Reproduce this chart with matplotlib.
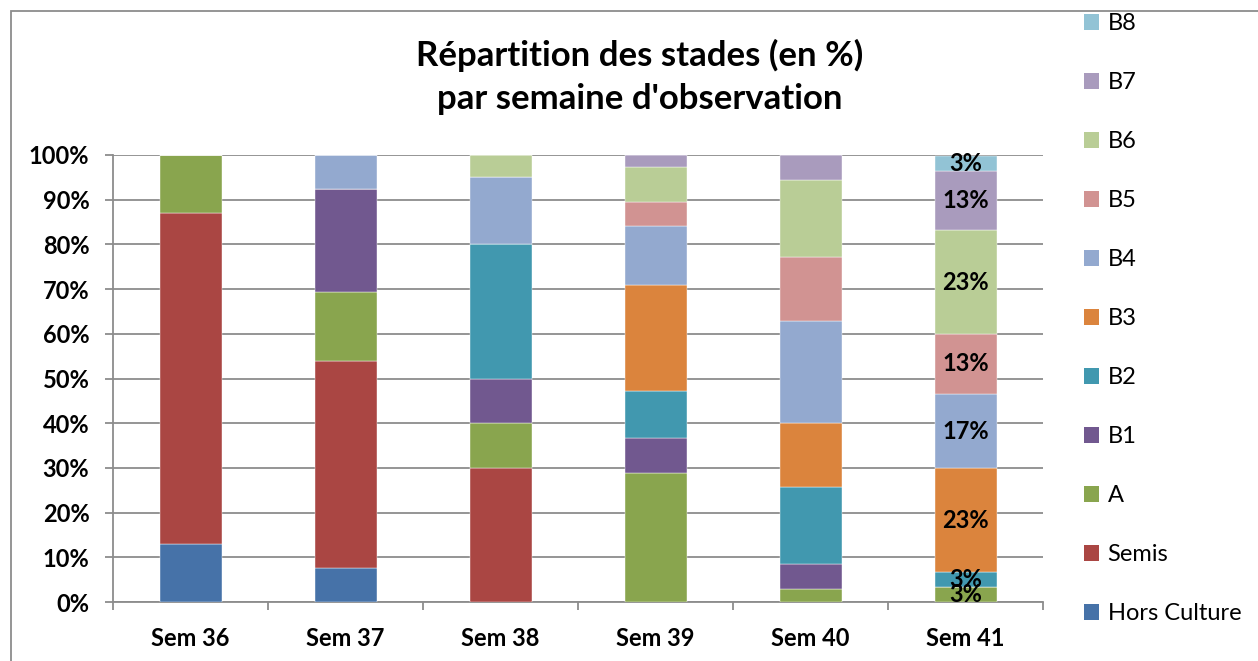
import numpy as np
import matplotlib
matplotlib.use("Agg")
import matplotlib.pyplot as plt
from matplotlib.patches import Rectangle, Patch

plt.rcParams["font.family"] = ["Lato", "DejaVu Sans"]

weeks = ["Sem 36", "Sem 37", "Sem 38", "Sem 39", "Sem 40", "Sem 41"]
stages = ["Hors Culture", "Semis", "A", "B1", "B2", "B3", "B4", "B5", "B6", "B7", "B8"]

# percentages per stage, one value per week
hors_culture = [13.0, 7.7, 0.0, 0.0, 0.0, 0.0]
semis = [74.0, 46.2, 30.0, 0.0, 0.0, 0.0]
stade_a = [13.0, 15.4, 10.0, 28.9, 2.9, 3.3]
b1 = [0.0, 23.1, 10.0, 7.9, 5.7, 0.0]
b2 = [0.0, 0.0, 30.0, 10.5, 17.1, 3.3]
b3 = [0.0, 0.0, 0.0, 23.7, 14.3, 23.3]
b4 = [0.0, 7.7, 15.0, 13.2, 22.9, 16.7]
b5 = [0.0, 0.0, 0.0, 5.3, 14.3, 13.3]
b6 = [0.0, 0.0, 5.0, 7.9, 17.1, 23.3]
b7 = [0.0, 0.0, 0.0, 2.6, 5.7, 13.3]
b8 = [0.0, 0.0, 0.0, 0.0, 0.0, 3.3]

colors = ["#4672A8", "#AA4643", "#89A54E", "#71588F", "#4198AF", "#DB843D",
          "#93A9CF", "#D19392", "#B9CD96", "#A99BBD", "#92C3D5"]

series = [hors_culture, semis, stade_a, b1, b2, b3, b4, b5, b6, b7, b8]

W, H = 1258, 661
fig = plt.figure(figsize=(W / 100, H / 100), dpi=100)
ax = fig.add_axes([113 / W, 1 - 602 / H, (1043 - 113) / W, (602 - 155) / H])

# chart border (only top/left visible in the crop)
fig.patches.append(Rectangle((11 / W, -0.1), 1.2, 1 - 11 / H + 0.1,
                             transform=fig.transFigure, fill=False,
                             edgecolor="#8c8c8c", linewidth=1.3))

x = np.arange(len(weeks))
bottom = np.zeros(len(weeks))
for name, vals, c in zip(stages, series, colors):
    vals = np.array(vals)
    ax.bar(x, vals, width=0.4, bottom=bottom, color=c, label=name,
           edgecolor="white", linewidth=0.3, zorder=3)
    # labels only on the last week (A and B2 labels overlap, as in the source)
    if vals[-1] > 0:
        ax.text(x[-1], bottom[-1] + vals[-1] / 2, f"{vals[-1]:.0f}%",
                ha="center", va="center", fontsize=17, fontweight="bold",
                zorder=4)
    bottom += vals

ax.set_xlim(-0.5, len(weeks) - 0.5)
ax.set_ylim(0, 100)
ax.set_yticks(np.arange(0, 101, 10))
ax.set_yticklabels([f"{v}%" for v in range(0, 101, 10)], fontsize=17,
                   fontweight="bold")
ax.set_xticks(x)
ax.set_xticklabels(weeks, fontsize=17, fontweight="bold")
ax.set_xticks(np.arange(-0.5, len(weeks)), minor=True)
ax.tick_params(axis="x", which="major", length=0, pad=18)
ax.tick_params(axis="x", which="minor", length=6, color="#8c8c8c", width=1.3)
ax.tick_params(axis="y", length=6, color="#8c8c8c", width=1.3, pad=11)
ax.grid(axis="y", color="#8c8c8c", linewidth=1.3, zorder=0)
for s in ["top", "right"]:
    ax.spines[s].set_visible(False)
for s in ["left", "bottom"]:
    ax.spines[s].set_color("#8c8c8c")
    ax.spines[s].set_linewidth(1.3)

fig.text(640 / W, 1 - 77 / H, "Répartition des stades (en %)\npar semaine d'observation",
         ha="center", va="center", fontsize=25, fontweight="bold",
         linespacing=1.4)

handles = [Patch(facecolor=c, label=n) for n, c in zip(stages, colors)][::-1]
fig.legend(handles=handles, loc="upper left",
           bbox_to_anchor=(1084 / W, 1 - 13 / H), frameon=False, fontsize=17,
           labelspacing=1.61, handlelength=0.65, handleheight=0.65,
           handletextpad=0.35, borderpad=0, borderaxespad=0)

fig.savefig("out.png", dpi=100, facecolor="white")
